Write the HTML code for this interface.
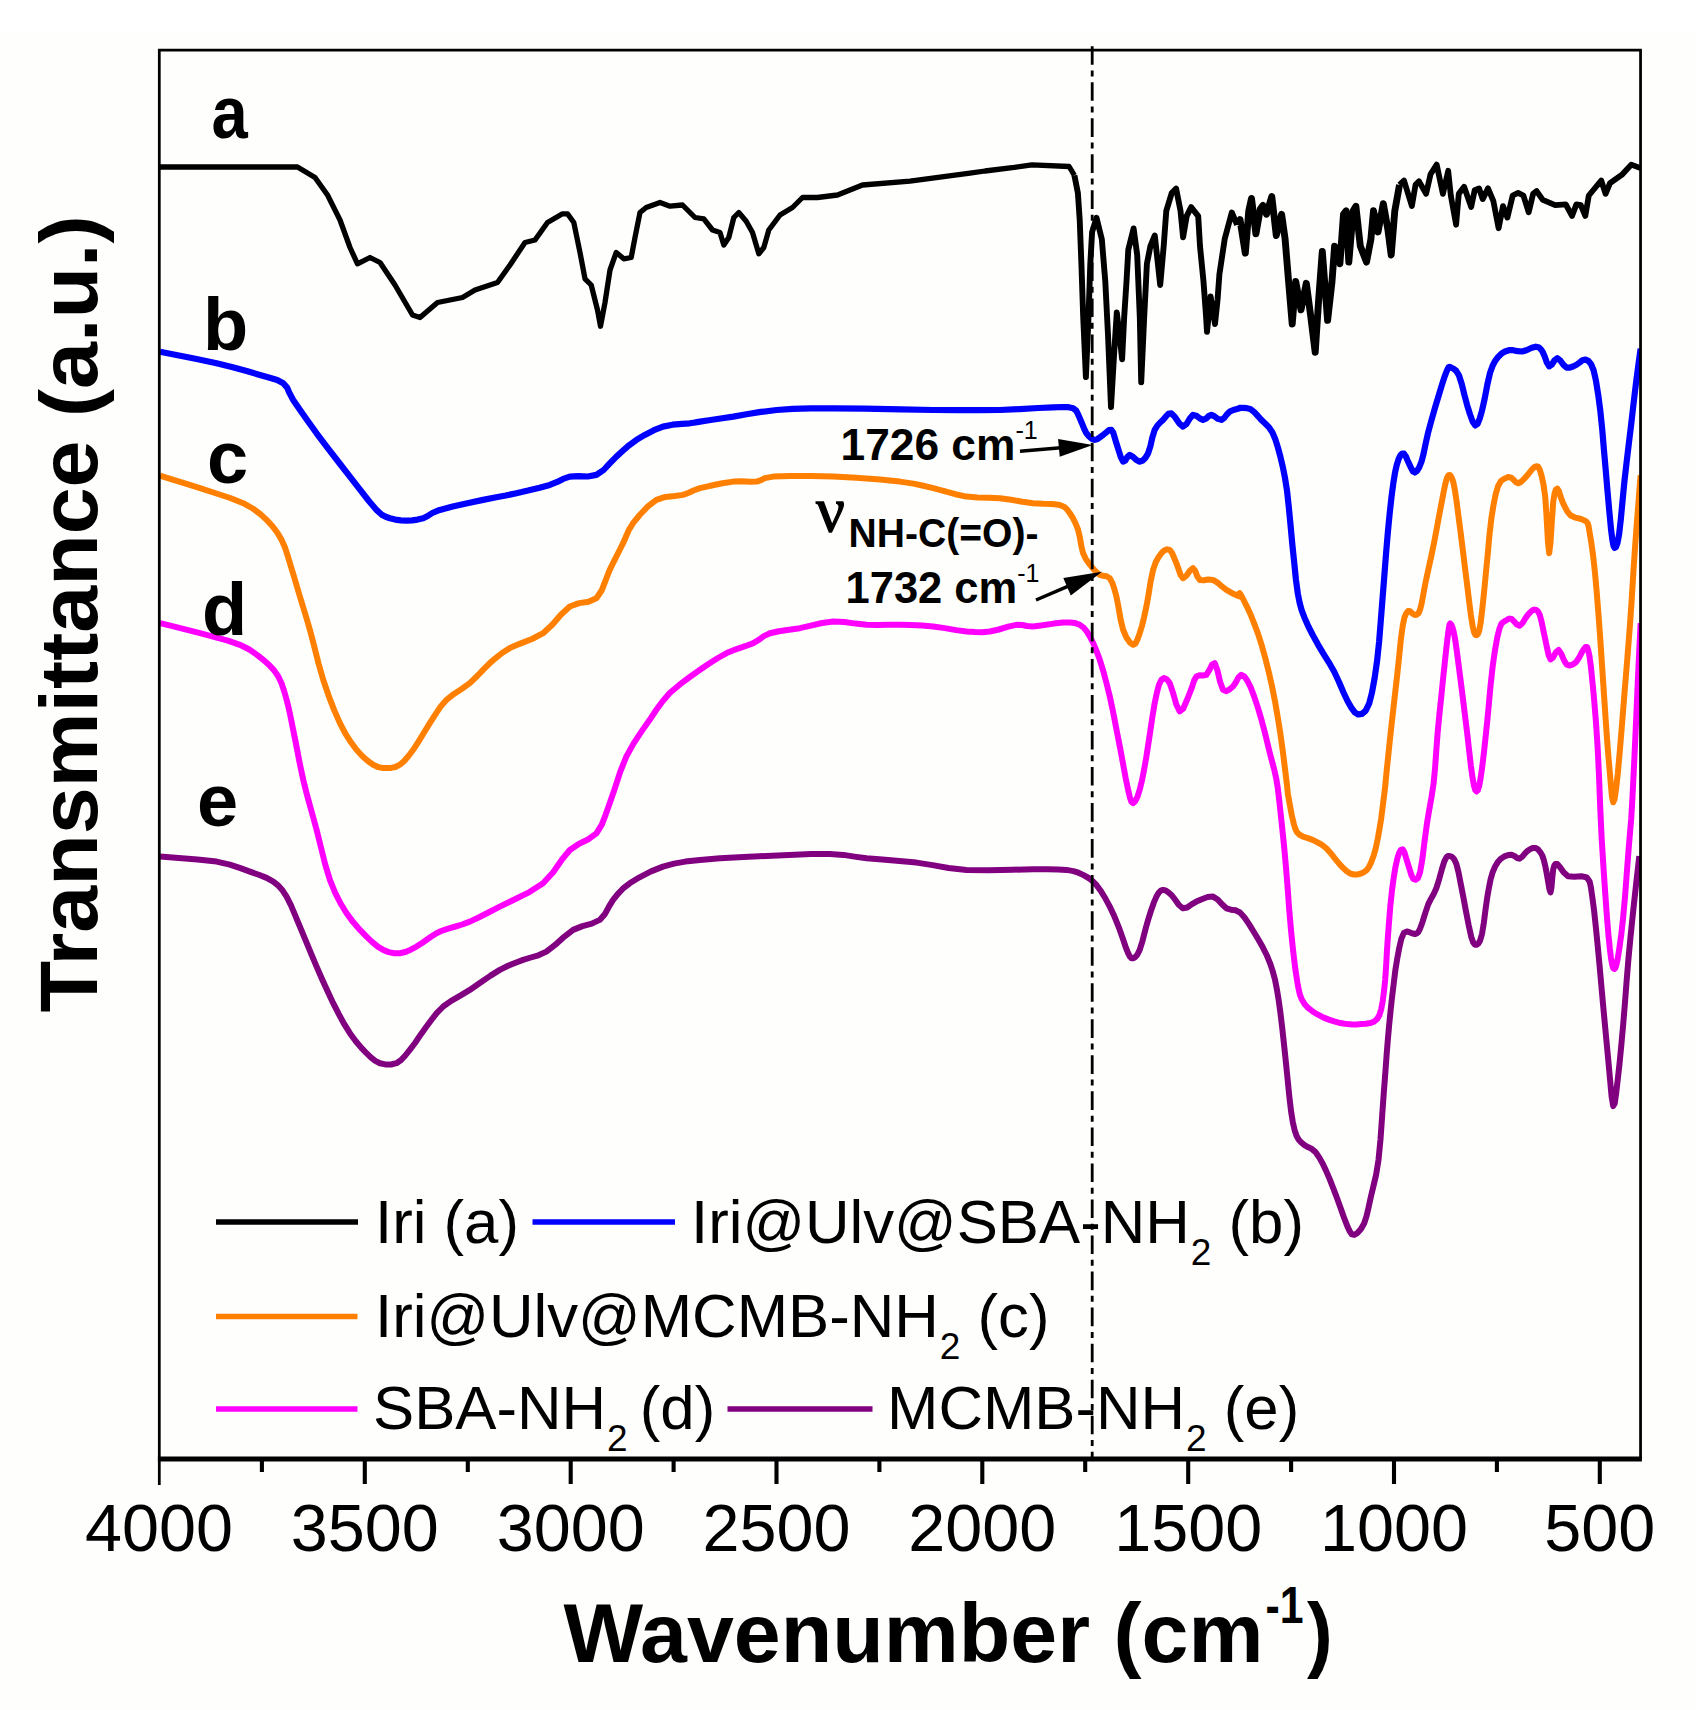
<!DOCTYPE html>
<html lang="en"><head><meta charset="utf-8"><title>FTIR spectra</title>
<style>html,body{margin:0;padding:0;background:#fff;}svg{display:block;}text{font-family:"Liberation Sans",sans-serif;fill:#000;}.b{font-weight:bold;}</style></head><body>
<svg width="1696" height="1710" viewBox="0 0 1696 1710">
<rect x="0" y="0" width="1696" height="1710" fill="#ffffff"/>
<rect x="0" y="30" width="1696" height="1680" fill="#fefefd"/>
<defs><clipPath id="pc"><rect x="159.3" y="50" width="1481.3" height="1409"/></clipPath></defs>
<g fill="none" stroke-linejoin="round" stroke-linecap="butt" clip-path="url(#pc)">
<polyline stroke="#000" stroke-width="5.3" points="160.0,167.0 297.5,167.0 315.0,177.5 327.5,195.0 340.0,220.0 350.0,247.5 357.5,263.8 370.0,257.5 380.0,262.5 395.0,285.0 412.5,315.0 420.0,317.5 437.5,302.5 462.5,297.5 475.0,290.0 497.5,282.5 510.0,265.0 525.0,242.5 535.0,240.0 547.5,222.5 562.5,213.8 567.5,213.8 573.8,222.5 580.0,252.5 585.0,278.8 591.2,285.0 597.5,310.0 600.5,326.2 605.0,302.5 610.0,270.0 616.2,252.5 623.8,258.8 631.2,257.5 635.0,237.5 640.0,212.5 646.2,207.5 660.0,202.5 670.0,206.2 682.5,205.0 695.0,217.5 703.8,218.8 712.5,230.0 720.0,232.5 723.8,245.0 728.8,237.5 733.8,217.5 738.8,212.5 746.2,221.2 752.5,232.5 758.8,253.8 763.8,247.5 768.8,230.0 780.0,215.0 792.5,207.5 802.5,197.5 817.5,197.5 837.5,195.0 862.5,185.0 910.0,181.2 970.0,173.2 985.0,171.0 1014.2,167.4 1031.9,164.8 1069.1,166.5 1074.4,175.4"/>
<polyline stroke="#000" stroke-width="5.9" points="1074.4,175.4 1077.9,193.1 1079.7,219.6 1081.4,263.8 1083.2,316.9 1085.9,377.0 1088.5,316.9 1090.3,263.8 1092.1,232.0 1096.5,217.8 1101.8,239.1 1105.3,281.5 1108.0,334.6 1111.0,407.1 1114.2,352.3 1116.8,312.5 1119.5,334.6 1122.1,359.3 1124.2,316.9 1126.5,281.5 1128.3,249.7 1133.6,228.4 1137.2,255.0 1139.8,316.9 1141.2,382.3 1144.2,316.9 1146.9,263.8 1150.4,246.1 1154.8,235.5 1160.2,285.0 1163.7,246.1 1166.3,210.8 1171.7,193.1 1176.1,188.6 1180.5,210.8 1183.1,237.3 1186.7,216.1 1191.1,207.2 1198.2,216.1 1200.0,246.1 1203.5,281.5 1206.1,316.9 1207.0,331.9 1210.6,296.5 1215.0,324.0 1217.6,299.2 1219.4,274.4 1224.7,239.1 1231.8,212.5 1237.1,224.9"/>
<polyline stroke="#000" stroke-width="6.9" points="1237.1,224.9 1240.0,219.6 1245.3,253.2 1248.8,210.8 1251.5,198.4 1255.9,233.8 1260.3,209.0 1263.0,205.4 1266.5,214.3 1271.8,196.6 1276.3,235.5 1281.6,214.3 1285.1,239.1 1288.6,281.5 1292.2,324.0 1295.7,281.5 1301.0,309.8 1306.3,283.3 1310.8,316.9 1315.2,352.3 1318.7,299.2 1322.3,251.4 1327.6,320.4 1332.0,281.5 1334.6,246.1 1339.9,263.8 1343.5,214.3 1346.1,210.8 1348.8,262.1 1353.2,210.8 1355.9,206.3 1360.3,246.1 1366.5,262.1 1370.9,239.1 1373.5,210.8 1378.0,232.0 1383.3,203.7 1387.7,228.4 1391.2,255.0 1394.8,210.8 1399.5,184.9"/>
<polyline stroke="#000" stroke-width="5.8" points="1399.5,184.9 1404.0,180.5 1411.9,206.1 1415.5,184.9 1419.0,181.4 1426.1,193.8 1430.5,174.3 1436.7,164.6 1442.9,193.8 1448.2,170.8 1450.8,195.5 1456.1,224.7 1458.8,193.8 1464.1,186.7 1471.2,207.0 1474.7,190.2 1479.1,188.4 1482.7,199.1 1488.0,188.4 1493.3,200.8 1498.6,228.2 1503.0,206.1 1507.4,217.6 1512.7,195.5 1518.1,192.9 1523.4,195.5 1528.7,212.3 1533.1,193.8 1536.6,191.1 1542.8,199.9 1555.2,205.2 1565.8,204.4 1572.0,215.9 1576.4,204.4 1580.8,205.2 1585.3,215.9 1588.8,195.5 1601.2,180.5 1605.6,193.8 1610.0,183.1 1622.4,174.3 1631.3,164.6 1640.5,168.1"/>
<polyline stroke="#0000ff" stroke-width="6.2" points="160.0,351.7 175.2,354.7 196.6,359.0 216.6,363.3 232.8,367.3 247.5,371.3 259.9,375.0 269.7,377.7 277.2,380.0 283.3,383.3 287.1,387.6 289.4,392.9 293.2,400.0 299.7,409.5 307.6,420.8 316.6,433.3 327.2,447.3 338.9,462.5 349.9,476.6 359.8,489.4 368.9,501.0 376.5,509.9 381.8,514.7 385.7,516.8 389.9,518.2 395.2,519.6 400.8,520.3 406.5,520.6 412.1,520.3 417.6,519.6 423.2,518.2 427.7,516.0 432.3,513.0 439.8,509.9 452.7,506.6 468.5,503.0 483.1,499.9 495.0,497.5 505.7,495.5 516.5,493.2 528.0,490.6 539.6,487.7 549.8,484.9 557.2,481.9 563.1,478.9 569.8,476.6 578.4,476.1 587.8,476.5 596.4,474.9 603.6,470.0 610.0,463.2 616.4,456.6 622.8,450.8 629.2,445.2 636.4,439.9 644.8,434.9 653.9,430.2 663.0,426.6 672.5,424.7 682.0,423.9 689.7,423.3 693.5,422.7 695.5,422.4 700.0,421.6 709.0,420.3 720.6,418.5 733.3,416.6 746.5,414.3 760.8,411.9 776.6,410.0 792.9,408.9 810.7,408.4 833.3,408.3 864.6,408.7 900.7,409.4 933.2,410.0 958.4,410.2 979.8,410.2 999.8,410.0 1019.8,409.1 1038.3,408.0 1053.1,407.3 1062.7,407.0 1068.7,407.2 1073.1,408.3 1076.3,410.8 1078.0,414.2 1079.8,418.3 1081.9,423.2 1084.1,428.7 1086.4,433.3 1089.1,436.5 1091.9,438.9 1094.8,439.9 1097.5,439.1 1100.3,437.0 1103.1,434.9 1106.0,432.6 1108.9,430.2 1111.4,429.9 1113.3,432.8 1114.8,437.8 1116.4,443.3 1118.5,449.9 1120.8,457.1 1123.1,461.6 1125.2,460.7 1127.3,457.1 1129.7,454.9 1132.9,456.7 1136.4,460.0 1139.7,461.6 1142.7,460.5 1145.5,457.7 1148.1,453.3 1150.4,446.1 1152.4,437.3 1154.7,429.9 1157.4,425.5 1160.2,422.5 1163.1,419.9 1165.7,416.7 1168.4,413.9 1171.4,413.3 1175.1,417.2 1179.2,423.3 1183.0,426.6 1186.5,424.0 1189.8,418.5 1193.0,414.9 1196.4,415.8 1199.8,418.4 1203.0,419.9 1205.9,418.7 1208.5,416.2 1211.4,414.9 1214.6,416.4 1218.1,418.9 1221.4,419.9 1224.2,418.0 1226.8,414.5 1229.7,411.6 1233.3,410.0 1237.0,409.0 1239.7,408.3 1240.1,407.9 1239.5,407.8 1240.0,408.0 1242.8,407.9 1246.8,408.1 1250.8,409.3 1254.3,412.2 1257.9,416.0 1261.5,420.1 1265.2,423.6 1268.9,427.2 1272.3,432.2 1275.2,438.9 1277.8,447.1 1280.3,456.4 1282.7,466.5 1285.0,477.9 1287.1,491.3 1288.9,508.1 1290.7,526.9 1292.4,545.1 1294.2,562.5 1295.9,579.4 1297.8,593.5 1299.7,603.2 1301.7,610.3 1304.5,617.7 1308.4,626.5 1313.0,635.5 1318.0,644.6 1323.2,653.4 1328.8,662.3 1334.1,671.5 1338.9,681.7 1343.4,692.3 1347.5,701.0 1351.3,707.6 1354.8,712.4 1358.3,714.5 1362.0,713.9 1365.7,710.6 1369.1,703.7 1372.0,692.5 1374.7,677.6 1377.1,660.7 1379.1,641.7 1380.8,620.6 1382.5,598.9 1384.3,576.2 1386.1,552.9 1387.9,531.7 1389.7,513.2 1391.5,496.9 1393.3,483.3 1395.0,472.7 1396.8,464.8 1398.6,459.1 1400.4,455.3 1402.2,453.6 1404.0,453.7 1405.8,456.2 1407.6,460.5 1409.4,464.4 1411.1,468.0 1412.9,471.3 1414.8,472.5 1416.9,471.0 1419.2,467.4 1421.5,461.7 1423.6,453.6 1425.7,443.3 1428.2,432.2 1431.6,419.7 1435.4,406.4 1439.0,394.5 1442.0,384.7 1444.7,376.3 1447.0,370.3 1448.5,367.4 1449.6,366.9 1451.1,367.6 1453.5,368.7 1456.3,371.0 1459.1,375.7 1461.8,384.3 1464.5,395.3 1467.2,405.3 1469.9,414.0 1472.7,421.7 1475.3,425.4 1477.5,424.0 1479.7,418.6 1482.0,410.7 1484.6,399.0 1487.3,384.8 1490.0,373.0 1492.6,365.7 1495.2,360.8 1498.1,356.9 1501.4,353.7 1505.0,351.5 1508.9,350.2 1513.1,350.2 1517.7,351.2 1522.3,351.5 1527.0,350.0 1531.8,347.8 1535.8,346.7 1538.5,347.2 1540.5,348.8 1542.5,351.5 1544.7,356.5 1546.9,362.7 1549.2,366.3 1551.7,364.7 1554.4,360.5 1557.3,358.2 1560.3,360.5 1563.5,364.8 1566.7,367.6 1569.8,367.7 1572.9,366.5 1576.1,365.0 1579.3,362.8 1582.5,360.3 1585.5,359.6 1588.3,360.9 1591.0,364.0 1593.6,370.3 1596.0,380.9 1598.2,394.7 1600.3,410.7 1602.2,429.0 1603.9,449.4 1605.7,469.8 1607.5,491.0 1609.4,512.2 1611.0,529.0 1612.3,539.4 1613.4,545.4 1614.5,547.8 1615.9,547.2 1617.5,543.0 1619.1,534.3 1620.8,519.5 1622.6,500.2 1624.5,480.6 1626.7,461.5 1629.0,442.2 1631.2,424.1 1633.1,407.5 1634.9,392.0 1636.6,378.4 1638.2,366.2 1639.6,355.9 1640.6,348.8"/>
<polyline stroke="#ff8000" stroke-width="6.0" points="160.0,475.6 170.2,478.8 184.9,483.4 200.0,488.2 214.9,493.0 230.2,498.0 243.3,503.2 252.8,508.5 260.2,514.0 266.6,519.9 272.5,526.2 277.4,532.8 281.6,539.9 284.8,547.0 287.3,554.6 289.9,563.2 293.1,573.6 296.5,585.0 299.9,596.5 303.1,607.0 306.3,617.5 309.9,629.8 314.0,645.5 318.4,663.0 323.2,679.8 328.5,695.3 334.2,710.1 339.9,723.1 345.4,733.7 351.0,742.3 356.5,749.8 362.2,756.0 367.9,761.0 373.2,764.7 377.9,767.0 382.2,767.9 386.5,768.1 391.0,767.9 395.4,767.0 399.9,764.7 404.2,761.0 408.5,756.0 413.2,749.8 418.5,741.6 424.2,732.2 429.8,723.1 435.1,714.8 440.4,706.9 446.5,699.8 453.9,693.9 462.0,688.7 469.8,683.1 476.7,676.5 483.3,669.6 489.8,663.1 496.0,657.8 502.1,653.0 509.8,648.1 520.2,643.6 532.0,639.0 543.1,633.2 552.5,624.5 561.1,614.5 569.8,606.5 579.1,603.1 588.5,601.8 596.4,598.2 601.8,590.2 605.8,579.9 609.7,569.9 614.3,560.6 618.9,551.5 623.1,543.2 626.1,536.2 628.9,529.9 633.0,523.2 639.7,515.0 647.9,506.4 656.4,499.9 665.4,496.9 674.7,496.0 683.0,494.9 688.8,492.8 693.5,490.5 700.0,488.2 710.3,485.8 722.3,483.3 733.3,481.6 742.1,481.3 749.7,481.7 756.6,481.6 761.1,480.1 764.8,478.1 773.3,476.6 789.8,476.0 811.2,476.0 833.3,476.6 856.2,477.8 879.9,479.6 899.9,481.6 913.5,483.6 923.3,485.8 933.2,488.2 944.3,491.1 955.4,494.2 966.5,496.6 977.6,497.5 988.7,497.7 999.8,498.2 1011.2,499.8 1022.5,501.7 1033.1,503.2 1043.1,503.8 1052.4,504.0 1059.8,504.9 1064.4,506.9 1067.2,509.6 1069.8,513.2 1072.8,517.9 1075.6,523.5 1078.1,529.9 1079.9,537.5 1081.3,545.9 1083.1,553.2 1085.6,558.6 1088.5,562.8 1091.4,566.5 1094.2,569.9 1096.9,572.6 1099.8,574.9 1103.1,575.8 1106.6,576.2 1109.8,578.2 1112.2,582.6 1114.3,588.7 1116.4,596.5 1118.5,607.2 1120.6,619.5 1123.1,629.8 1126.3,637.2 1129.9,642.5 1133.1,644.8 1135.5,643.5 1137.6,639.1 1139.7,633.2 1142.0,625.8 1144.2,616.7 1146.4,606.5 1148.6,594.3 1150.7,581.0 1153.1,569.9 1155.7,562.3 1158.6,557.0 1161.4,553.2 1164.2,550.5 1167.1,549.3 1169.7,549.9 1172.1,553.0 1174.2,558.0 1176.4,563.2 1178.5,569.0 1180.6,575.0 1183.0,578.2 1186.3,575.9 1189.8,570.8 1193.0,568.2 1195.3,570.9 1197.1,576.0 1199.7,579.9 1203.7,580.3 1208.3,579.5 1213.0,579.9 1217.5,582.6 1221.9,586.4 1226.4,589.8 1231.3,592.7 1236.2,595.1 1239.7,596.5 1240.4,595.3 1239.6,593.0 1240.0,593.5 1242.8,598.5 1246.8,606.3 1250.8,615.0 1254.3,623.8 1257.9,633.4 1261.5,644.6 1265.2,657.8 1268.9,672.6 1272.3,687.6 1275.2,702.4 1277.8,717.4 1280.3,733.3 1282.9,751.9 1285.3,771.3 1287.1,786.0 1287.7,792.1 1287.8,793.6 1288.4,796.9 1289.9,805.3 1291.8,815.4 1293.8,823.8 1295.3,828.8 1296.8,831.9 1299.2,834.5 1303.0,836.6 1307.8,838.1 1312.6,839.9 1317.1,842.1 1321.6,844.6 1326.0,848.0 1330.6,853.0 1335.2,858.9 1339.5,864.1 1343.3,868.1 1346.8,871.3 1350.2,873.5 1353.9,874.5 1357.6,874.4 1361.0,873.5 1363.9,872.2 1366.6,870.2 1369.1,866.8 1371.4,861.8 1373.7,855.5 1375.8,848.0 1377.7,839.0 1379.5,828.9 1381.2,818.4 1382.7,806.7 1384.2,794.6 1385.2,786.1 1385.3,785.7 1384.9,788.7 1385.2,786.0 1386.5,772.6 1388.5,753.3 1390.6,733.3 1392.8,713.7 1395.1,693.3 1397.3,674.2 1399.2,656.0 1400.9,639.0 1402.7,625.8 1404.4,617.6 1406.2,613.3 1408.0,611.0 1410.2,611.3 1412.6,613.7 1414.8,615.0 1416.7,614.7 1418.4,613.4 1420.1,609.6 1421.8,602.7 1423.5,593.3 1425.5,582.7 1428.0,571.2 1430.8,558.4 1433.6,545.1 1436.4,530.5 1439.2,515.2 1441.7,502.1 1443.7,491.8 1445.4,483.6 1447.0,477.9 1448.5,475.1 1449.8,474.9 1451.1,476.5 1452.4,479.3 1453.7,483.9 1455.1,491.3 1456.7,502.4 1458.5,516.3 1460.5,531.7 1462.7,549.1 1465.0,568.0 1467.2,585.4 1469.1,601.0 1470.9,615.1 1472.6,625.8 1474.0,632.0 1475.3,634.8 1476.6,635.2 1477.9,634.2 1479.2,630.8 1480.6,623.1 1482.3,609.0 1484.2,590.7 1486.0,572.0 1487.8,553.5 1489.5,534.6 1491.4,518.2 1493.5,505.0 1495.7,494.1 1498.1,485.9 1500.8,481.2 1503.6,479.1 1506.2,477.9 1508.1,477.1 1509.8,477.2 1511.6,477.9 1513.6,479.7 1515.9,482.2 1518.3,483.3 1520.9,482.0 1523.6,479.4 1526.3,476.5 1529.1,473.1 1531.9,469.5 1534.4,467.1 1536.4,466.2 1538.1,466.7 1539.8,469.8 1541.6,475.9 1543.5,484.6 1545.2,496.7 1546.6,517.3 1547.9,541.2 1549.2,553.2 1550.5,542.7 1551.9,520.3 1553.2,502.1 1554.5,493.8 1555.8,489.7 1557.3,488.6 1558.9,491.1 1560.6,496.6 1562.6,502.1 1564.9,506.9 1567.4,511.6 1570.7,515.5 1575.5,517.7 1581.1,519.0 1585.5,520.9 1587.6,523.0 1588.5,525.7 1589.5,531.7 1591.2,541.9 1593.1,555.5 1594.9,572.0 1596.7,591.9 1598.5,614.8 1600.3,639.2 1602.1,666.2 1604.0,694.7 1605.7,719.9 1607.1,739.8 1608.4,756.5 1609.7,770.9 1610.9,785.1 1612.0,797.0 1613.2,802.3 1614.6,799.1 1616.0,789.3 1617.8,773.6 1619.9,750.1 1622.3,720.8 1624.5,693.0 1626.4,670.1 1628.1,648.7 1629.9,625.8 1631.7,599.5 1633.4,571.7 1635.2,545.1 1637.2,518.4 1639.2,492.9 1640.6,475.2"/>
<polyline stroke="#ff00ff" stroke-width="6.0" points="160.0,623.2 170.4,625.7 185.2,629.3 200.0,633.2 213.9,636.8 227.9,640.6 239.9,644.8 249.3,649.5 256.7,654.6 263.3,659.8 269.1,665.0 274.1,670.4 278.3,676.5 281.6,683.5 284.2,691.3 286.6,699.8 288.8,708.5 290.8,718.0 293.2,729.8 296.2,744.9 299.5,762.3 303.2,779.7 307.4,796.4 312.0,813.0 316.6,829.7 320.9,847.1 325.2,864.4 329.9,879.9 335.1,892.7 340.6,903.5 346.6,913.3 353.1,922.1 360.0,929.9 366.5,936.6 372.3,942.1 377.8,946.6 383.2,949.9 388.7,952.1 394.3,953.2 399.9,953.2 405.3,952.0 410.7,949.7 416.5,946.6 423.2,942.3 430.2,937.3 436.5,933.2 441.2,931.0 445.1,929.7 449.8,928.2 455.6,926.5 462.2,924.5 469.8,921.6 478.6,917.5 488.4,912.5 499.8,906.6 513.9,899.8 529.4,892.1 543.1,883.3 553.2,872.3 561.5,860.2 569.8,850.0 579.1,843.7 588.5,839.2 596.4,833.3 601.7,824.9 605.5,815.1 609.7,803.3 614.8,788.6 620.2,771.9 626.4,756.4 633.8,743.1 641.9,730.9 649.7,719.8 656.2,710.0 662.4,701.4 669.7,693.1 679.2,684.9 689.8,677.0 700.0,669.8 709.2,663.5 717.9,658.0 726.7,653.1 735.9,649.3 745.2,646.2 753.3,643.1 759.1,639.6 763.8,636.1 770.0,633.2 778.8,631.2 789.2,629.8 799.9,628.2 810.8,625.7 822.0,623.0 833.3,621.5 844.4,622.0 855.5,623.6 866.6,624.8 877.7,625.0 888.8,624.8 899.9,624.8 911.0,625.1 922.1,625.6 933.2,626.5 944.7,628.1 956.1,630.1 966.5,631.5 974.9,632.1 982.2,632.2 989.8,631.5 998.8,629.5 1008.2,626.7 1016.5,624.8 1022.3,625.0 1027.0,626.0 1033.1,626.5 1042.6,625.3 1053.6,623.6 1063.1,622.5 1069.9,622.5 1075.2,623.1 1079.8,624.8 1083.6,627.6 1086.7,631.4 1089.8,636.5 1093.1,642.9 1096.4,650.6 1099.8,659.8 1103.1,670.5 1106.4,682.8 1109.8,696.5 1113.2,712.4 1116.5,729.8 1119.8,746.4 1122.8,762.5 1125.6,777.8 1128.1,789.7 1129.9,797.4 1131.4,801.7 1133.1,803.1 1135.2,801.3 1137.5,796.6 1139.7,789.7 1141.9,780.8 1144.1,769.7 1146.4,756.4 1149.1,739.0 1152.0,719.4 1154.7,703.1 1157.0,692.1 1159.1,684.5 1161.4,679.8 1164.0,678.0 1166.8,679.2 1169.7,683.1 1172.9,692.4 1176.3,704.5 1179.7,711.4 1183.2,708.7 1186.6,700.8 1189.7,693.1 1192.1,686.9 1194.0,680.8 1196.4,676.5 1199.5,675.2 1203.0,675.5 1206.4,674.8 1209.3,670.2 1212.0,664.6 1214.7,663.1 1217.4,670.3 1220.1,681.7 1223.0,689.8 1226.3,691.2 1229.7,689.3 1233.0,686.5 1235.9,682.3 1238.6,677.2 1241.3,674.8 1244.4,676.5 1247.5,681.0 1250.8,687.6 1254.3,696.9 1258.1,708.4 1261.5,719.9 1264.4,730.8 1267.1,741.8 1269.6,752.1 1272.0,761.3 1274.3,769.9 1276.3,779.0 1277.8,788.3 1279.0,798.1 1280.3,810.3 1282.0,826.1 1283.9,844.4 1285.7,864.1 1287.5,886.0 1289.2,909.4 1291.1,931.3 1293.2,951.5 1295.5,970.3 1297.8,985.1 1299.8,994.3 1301.8,999.5 1304.5,1003.9 1308.4,1008.2 1313.0,1011.7 1318.0,1014.7 1323.2,1017.4 1328.8,1019.6 1334.1,1021.4 1338.8,1022.7 1343.2,1023.5 1347.5,1024.1 1352.0,1024.4 1356.5,1024.4 1361.0,1024.1 1365.7,1023.7 1370.5,1023.1 1374.4,1021.4 1377.3,1018.7 1379.4,1015.0 1381.2,1009.3 1382.7,1001.2 1384.0,991.2 1385.2,979.7 1386.1,966.5 1386.9,951.7 1387.9,936.7 1389.1,921.2 1390.4,905.3 1391.9,891.0 1393.6,878.4 1395.4,867.3 1397.3,858.7 1399.1,853.0 1400.9,849.8 1402.7,849.3 1404.5,852.5 1406.2,858.3 1408.0,864.1 1409.8,869.8 1411.5,875.6 1413.4,878.9 1415.6,879.8 1417.9,878.3 1420.1,872.2 1422.4,858.8 1424.6,840.9 1426.9,823.8 1429.2,810.1 1431.5,797.3 1433.6,783.4 1435.1,767.6 1436.3,750.6 1437.6,733.3 1439.3,715.4 1441.2,697.2 1443.0,679.5 1444.9,661.5 1446.8,644.0 1448.4,631.1 1449.4,625.0 1450.2,623.5 1451.1,624.4 1452.3,626.8 1453.6,631.6 1455.1,639.2 1456.7,650.3 1458.5,664.1 1460.5,679.5 1462.7,696.8 1465.0,715.5 1467.2,733.3 1469.1,750.1 1470.9,765.8 1472.6,778.1 1474.0,785.9 1475.3,790.2 1476.6,791.5 1477.9,790.2 1479.2,785.9 1480.6,778.1 1482.3,766.3 1484.1,751.0 1486.0,733.3 1488.2,711.5 1490.4,687.1 1492.7,666.1 1495.0,650.3 1497.2,637.7 1499.5,628.4 1501.7,623.3 1504.0,621.5 1506.2,620.4 1508.0,619.1 1509.6,618.6 1511.6,619.0 1514.0,621.3 1516.8,624.5 1519.6,625.8 1522.4,623.3 1525.1,618.8 1527.7,615.0 1530.1,612.4 1532.3,610.4 1534.4,609.6 1536.3,609.9 1538.0,611.4 1539.8,615.0 1541.6,621.8 1543.4,630.7 1545.2,639.2 1546.9,647.3 1548.6,655.0 1550.5,659.4 1553.0,657.5 1555.8,652.4 1558.6,650.0 1561.2,653.7 1563.9,660.2 1566.7,664.7 1569.8,665.5 1573.0,664.4 1576.1,662.1 1579.0,657.8 1581.8,652.4 1584.2,648.6 1585.8,646.9 1587.0,646.9 1588.2,650.0 1589.5,656.3 1590.8,665.8 1592.2,679.5 1594.0,698.3 1595.9,721.2 1597.6,746.7 1599.0,775.5 1600.2,806.9 1601.6,837.2 1603.4,866.3 1605.3,894.3 1607.0,917.9 1608.5,935.4 1609.8,948.4 1611.0,958.2 1612.2,964.8 1613.2,968.1 1614.3,969.0 1615.3,968.1 1616.4,964.8 1617.8,958.2 1619.4,948.0 1621.3,934.4 1623.1,917.9 1625.0,897.0 1626.8,873.1 1628.5,850.7 1629.9,834.1 1631.2,819.0 1632.5,796.9 1634.3,760.2 1636.3,716.5 1637.9,679.5 1639.1,654.1 1640.0,635.4 1640.6,623.1"/>
<polyline stroke="#800080" stroke-width="6.0" points="160.0,856.6 175.5,857.7 197.4,859.4 216.6,861.6 229.8,864.6 240.4,868.1 249.9,871.6 258.8,874.8 266.6,877.9 273.3,881.6 278.4,885.7 282.5,890.3 286.6,896.6 290.9,905.1 295.2,915.3 299.9,926.6 305.2,939.3 310.9,953.1 316.6,966.6 322.1,979.3 327.7,991.6 333.2,1003.2 338.8,1014.1 344.3,1024.2 349.9,1033.2 355.6,1041.0 361.2,1047.6 366.5,1053.2 371.1,1057.6 375.3,1060.9 379.9,1063.2 385.3,1064.4 391.1,1064.5 396.5,1063.2 401.1,1060.1 405.3,1055.5 409.8,1049.8 415.2,1042.7 420.8,1034.4 426.5,1026.5 431.7,1019.5 436.9,1012.8 443.2,1006.5 451.2,1000.9 460.3,995.6 469.8,989.9 479.8,983.1 490.2,975.9 499.8,969.9 508.1,965.8 515.6,962.7 523.1,959.9 530.8,957.5 538.4,955.3 546.4,951.6 555.1,944.9 564.1,936.8 573.1,929.9 582.5,926.1 591.8,923.6 599.7,919.9 605.0,913.9 608.9,906.7 613.1,899.9 617.7,894.1 622.8,888.7 629.7,883.3 639.5,877.3 651.0,871.4 663.0,866.6 674.0,863.6 685.3,861.6 700.0,860.0 720.1,858.3 743.6,857.0 766.6,856.0 789.0,854.9 810.9,854.1 829.9,854.0 843.6,854.9 854.4,856.6 866.6,858.3 882.2,859.6 899.4,861.0 916.5,862.6 932.6,865.1 948.6,868.0 966.5,869.9 988.7,870.3 1012.8,869.7 1033.1,869.3 1047.3,869.2 1057.8,869.4 1066.5,869.9 1073.4,871.1 1078.4,872.7 1083.1,874.9 1087.8,877.5 1092.1,880.6 1096.4,884.9 1101.0,891.2 1105.6,898.8 1109.8,906.6 1113.4,914.2 1116.7,922.1 1119.8,929.9 1122.8,938.4 1125.6,946.8 1128.1,953.2 1129.9,956.7 1131.4,958.2 1133.1,958.2 1135.1,957.2 1137.3,954.8 1139.7,949.9 1142.4,941.3 1145.2,930.2 1148.1,919.9 1150.9,911.0 1153.7,902.9 1156.4,896.6 1158.7,892.7 1160.8,890.7 1163.1,889.9 1165.6,890.4 1168.3,892.2 1171.4,894.9 1175.0,899.5 1178.9,905.0 1183.0,908.3 1187.2,907.5 1191.6,904.4 1196.4,901.6 1201.8,899.2 1207.6,897.0 1213.0,896.6 1217.7,899.5 1222.0,904.3 1226.4,908.3 1230.9,909.7 1235.5,910.3 1240.0,912.5 1244.5,917.5 1249.0,924.1 1253.4,931.3 1258.1,939.0 1262.8,947.3 1266.9,955.5 1270.1,963.3 1272.7,971.1 1275.0,979.7 1276.9,989.3 1278.6,999.7 1280.3,1012.0 1282.1,1026.8 1283.9,1043.4 1285.7,1060.4 1287.5,1078.2 1289.3,1096.3 1291.1,1111.5 1292.8,1122.1 1294.5,1129.7 1296.5,1135.7 1298.9,1140.0 1301.5,1142.7 1304.5,1145.1 1307.9,1147.1 1311.6,1148.8 1315.3,1151.8 1318.9,1156.9 1322.5,1163.3 1326.0,1170.6 1329.6,1178.9 1333.2,1188.1 1336.8,1197.5 1340.5,1207.8 1344.3,1218.4 1347.5,1226.6 1349.9,1231.6 1351.9,1234.4 1354.2,1234.9 1357.4,1233.1 1361.0,1229.0 1364.2,1223.3 1366.6,1215.9 1368.7,1206.8 1370.9,1196.6 1373.4,1186.2 1376.1,1174.7 1378.5,1159.9 1380.5,1139.2 1382.2,1115.2 1383.8,1092.6 1385.3,1073.2 1386.6,1055.3 1387.9,1038.9 1389.2,1024.4 1390.5,1011.5 1391.9,998.5 1393.6,984.5 1395.3,970.6 1397.3,958.2 1399.3,947.6 1401.4,938.6 1404.0,932.7 1407.5,931.4 1411.4,933.1 1414.8,934.0 1416.9,933.4 1418.3,932.1 1420.1,928.6 1422.6,921.7 1425.4,912.6 1428.2,904.4 1430.9,898.9 1433.6,894.2 1436.3,888.3 1439.1,879.3 1441.9,869.2 1444.3,861.4 1446.3,857.5 1447.9,856.0 1449.7,856.0 1451.9,856.8 1454.1,859.1 1456.4,864.1 1458.6,872.8 1460.8,884.1 1463.2,896.4 1465.8,910.4 1468.7,925.3 1471.2,936.7 1473.2,942.5 1474.9,944.7 1476.6,944.8 1478.4,943.6 1480.2,940.3 1482.0,934.0 1483.8,923.0 1485.6,908.9 1487.4,896.4 1489.1,886.9 1490.7,878.9 1492.7,872.2 1495.1,866.5 1497.8,862.1 1500.8,858.7 1504.3,856.4 1508.1,855.1 1511.6,854.7 1514.4,855.9 1517.0,858.0 1519.6,858.7 1522.3,856.7 1525.0,853.4 1527.7,850.7 1530.4,849.0 1533.2,847.9 1535.8,848.0 1538.2,849.6 1540.5,852.4 1542.5,856.0 1544.0,860.7 1545.3,866.2 1546.5,872.2 1547.9,880.2 1549.3,888.7 1550.5,892.3 1551.5,887.3 1552.3,877.4 1553.2,869.5 1554.2,865.7 1555.4,864.0 1557.3,864.1 1560.1,867.2 1563.6,872.3 1568.0,876.2 1574.2,876.8 1581.3,876.2 1586.8,877.5 1589.6,881.4 1590.9,887.3 1592.2,896.4 1594.0,909.9 1595.8,926.7 1597.6,944.8 1599.4,963.8 1601.2,984.0 1603.0,1003.9 1604.8,1023.3 1606.6,1042.5 1608.3,1060.4 1610.0,1079.1 1611.6,1096.6 1613.2,1106.1 1614.7,1103.5 1616.2,1092.8 1617.8,1079.2 1619.5,1063.8 1621.3,1045.3 1623.1,1025.4 1624.9,1003.5 1626.7,980.1 1628.5,958.2 1630.3,939.1 1632.1,921.5 1633.9,904.4 1635.9,886.1 1637.9,868.4 1639.3,856.0"/>
</g>
<line x1="1092.2" y1="46.2" x2="1092.2" y2="1459" stroke="#000" stroke-width="2.8" stroke-dasharray="18.6 5.7 6 5.74"/>
<path d="M159.3,1485 V50 H1640.55 V1459" fill="none" stroke="#000" stroke-width="2.75"/>
<line x1="157.9" y1="1459.1" x2="1641.9" y2="1459.1" stroke="#000" stroke-width="5"/>
<g stroke="#000" stroke-width="4.1">
<line x1="261.9" y1="1459" x2="261.9" y2="1472"/>
<line x1="364.8" y1="1459" x2="364.8" y2="1484"/>
<line x1="467.8" y1="1459" x2="467.8" y2="1472"/>
<line x1="570.7" y1="1459" x2="570.7" y2="1484"/>
<line x1="673.6" y1="1459" x2="673.6" y2="1472"/>
<line x1="776.5" y1="1459" x2="776.5" y2="1484"/>
<line x1="879.4" y1="1459" x2="879.4" y2="1472"/>
<line x1="982.3" y1="1459" x2="982.3" y2="1484"/>
<line x1="1085.2" y1="1459" x2="1085.2" y2="1472"/>
<line x1="1188.2" y1="1459" x2="1188.2" y2="1484"/>
<line x1="1291.1" y1="1459" x2="1291.1" y2="1472"/>
<line x1="1394.0" y1="1459" x2="1394.0" y2="1484"/>
<line x1="1496.9" y1="1459" x2="1496.9" y2="1472"/>
<line x1="1599.8" y1="1459" x2="1599.8" y2="1484"/>
</g>
<g font-size="66.5" text-anchor="middle">
<text x="159.0" y="1551">4000</text>
<text x="364.8" y="1551">3500</text>
<text x="570.7" y="1551">3000</text>
<text x="776.5" y="1551">2500</text>
<text x="982.3" y="1551">2000</text>
<text x="1188.2" y="1551">1500</text>
<text x="1394.0" y="1551">1000</text>
<text x="1599.8" y="1551">500</text>
</g>
<text class="b" font-size="84" x="563.5" y="1662" textLength="700" lengthAdjust="spacingAndGlyphs">Wavenumber (cm</text>
<text class="b" font-size="51" transform="translate(1265.5,1622.5) scale(0.84,1)">-1</text>
<text class="b" font-size="84" transform="translate(1307,1662) scale(0.92,1)">)</text>
<text class="b" font-size="82" transform="translate(97,1012.5) rotate(-90)" textLength="797" lengthAdjust="spacingAndGlyphs">Transmittance (a.u.)</text>
<text class="b" font-size="74" transform="translate(211.5,138) scale(0.88,1)">a</text>
<text class="b" font-size="74" x="203" y="350">b</text>
<text class="b" font-size="74" x="207" y="483">c</text>
<text class="b" font-size="74" x="202" y="635">d</text>
<text class="b" font-size="74" x="197" y="826">e</text>
<text class="b" font-size="44.3" x="840.5" y="460">1726 cm<tspan font-size="25" font-weight="normal" dy="-21" dx="0">-1</tspan></text>
<text class="b" font-size="43.5" x="845.5" y="603">1732 cm<tspan font-size="25" font-weight="normal" dy="-21" dx="0">-1</tspan></text>
<text style="font-family:'Liberation Serif',serif;font-weight:normal" font-size="64" x="816" y="530.5" stroke="#000" stroke-width="1.3">ν</text>
<text class="b" font-size="40.5" x="848.5" y="547" textLength="190" lengthAdjust="spacingAndGlyphs">NH-C(=O)-</text>
<line x1="1020.0" y1="451.3" x2="1060.9" y2="447.7" stroke="#000" stroke-width="3.5"/><polygon fill="#000" points="1092.8,444.9 1059.7,456.8 1058.1,438.9"/>
<line x1="1036.0" y1="600.0" x2="1068.9" y2="585.9" stroke="#000" stroke-width="3.5"/><polygon fill="#000" points="1102.0,571.7 1070.8,595.4 1063.3,577.9"/>
<g stroke-width="5.3" fill="none">
<line x1="216" y1="1222" x2="358" y2="1222" stroke="#000"/>
<line x1="532.5" y1="1222" x2="675" y2="1222" stroke="#0000ff"/>
<line x1="216" y1="1316.5" x2="357.5" y2="1316.5" stroke="#ff8000"/>
<line x1="216" y1="1409" x2="357.5" y2="1409" stroke="#ff00ff"/>
<line x1="727.5" y1="1409" x2="872.5" y2="1409" stroke="#800080"/>
</g>
<g font-size="61.7">
<text x="375" y="1243">Iri (a)</text>
<text x="691" y="1243">Iri@Ulv@SBA-NH<tspan font-size="37" dy="22" dx="1">2</tspan><tspan dy="-22"> </tspan>(b)</text>
<text x="375" y="1337">Iri@Ulv@MCMB-NH<tspan font-size="37" dy="22" dx="1">2</tspan><tspan dy="-22"> </tspan>(c)</text>
<text x="373" y="1429">SBA-NH<tspan font-size="37" dy="22" dx="1">2</tspan><tspan dy="-22"> </tspan><tspan dx="-5">(d)</tspan></text>
<text x="887" y="1429">MCMB-NH<tspan font-size="37" dy="22" dx="1">2</tspan><tspan dy="-22"> </tspan>(e)</text>
</g>
</svg></body></html>
